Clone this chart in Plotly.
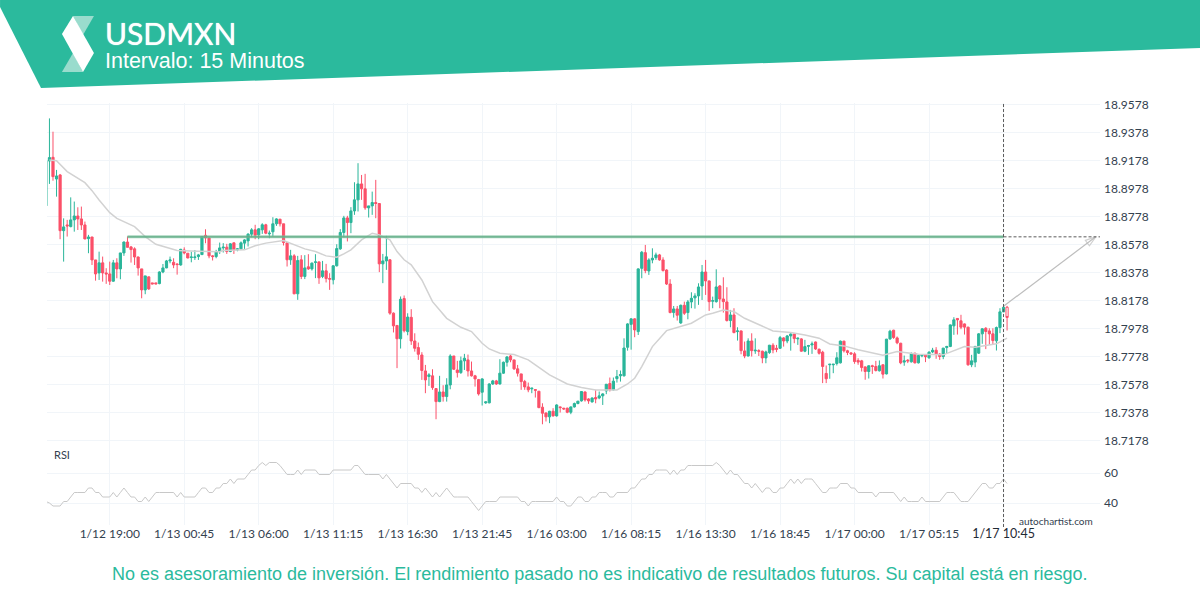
"""USDMXN 15 minute candle chart with RSI pane, autochartist style."""

import plotly.graph_objects as go

SYMBOL = "USDMXN"
INTERVAL = "Intervalo: 15 Minutos"
DISCLAIMER = ("No es asesoramiento de inversión. El rendimiento pasado no es indicativo "
              "de resultados futuros. Su capital está en riesgo.")

open_ = [
    18.8857, 18.9178, 18.9204, 18.9049, 18.9078, 18.8680, 18.8721, 18.8709, 18.8757, 18.8785,
    18.8764, 18.8721, 18.8623, 18.8635, 18.8471, 18.8378, 18.8450, 18.8378, 18.8371, 18.8319,
    18.8450, 18.8407, 18.8521, 18.8599, 18.8564, 18.8550, 18.8492, 18.8407, 18.8257, 18.8350,
    18.8307, 18.8307, 18.8302, 18.8385, 18.8414, 18.8464, 18.8454, 18.8442, 18.8435, 18.8542,
    18.8519, 18.8488, 18.8488, 18.8495, 18.8509, 18.8647, 18.8628, 18.8500, 18.8495, 18.8531,
    18.8557, 18.8562, 18.8531, 18.8593, 18.8543, 18.8550, 18.8591, 18.8607, 18.8655, 18.8686,
    18.8650, 18.8686, 18.8722, 18.8657, 18.8672, 18.8729, 18.8762, 18.8729, 18.8593, 18.8472,
    18.8500, 18.8229, 18.8472, 18.8353, 18.8422, 18.8407, 18.8453, 18.8457, 18.8353, 18.8393,
    18.8338, 18.8329, 18.8429, 18.8550, 18.8667, 18.8771, 18.8738, 18.8821, 18.8900, 18.9014,
    18.8979, 18.8843, 18.8857, 18.8881, 18.8874, 18.8443, 18.8464, 18.8472, 18.8091, 18.8003,
    18.7908, 18.8195, 18.7959, 18.8061, 18.7892, 18.7845, 18.7792, 18.7678, 18.7638, 18.7643,
    18.7552, 18.7459, 18.7528, 18.7495, 18.7578, 18.7785, 18.7685, 18.7666, 18.7750, 18.7757,
    18.7678, 18.7643, 18.7616, 18.7526, 18.7450, 18.7450, 18.7585, 18.7607, 18.7585, 18.7662,
    18.7740, 18.7785, 18.7757, 18.7693, 18.7657, 18.7602, 18.7564, 18.7550, 18.7545, 18.7533,
    18.7419, 18.7378, 18.7350, 18.7390, 18.7357, 18.7421, 18.7412, 18.7412, 18.7383, 18.7421,
    18.7445, 18.7464, 18.7528, 18.7478, 18.7457, 18.7488, 18.7485, 18.7500, 18.7535, 18.7588,
    18.7543, 18.7623, 18.7643, 18.7643, 18.7847, 18.8011, 18.8050, 18.7959, 18.8411, 18.8523,
    18.8392, 18.8471, 18.8487, 18.8507, 18.8471, 18.8399, 18.8299, 18.8095, 18.8121, 18.8021,
    18.8147, 18.8095, 18.8171, 18.8200, 18.8214, 18.8285, 18.8385, 18.8321, 18.8176, 18.8173,
    18.8285, 18.8192, 18.8171, 18.8038, 18.8078, 18.7959, 18.7964, 18.7821, 18.7785, 18.7892,
    18.7821, 18.7823, 18.7819, 18.7771, 18.7809, 18.7862, 18.7840, 18.7840, 18.7914, 18.7892,
    18.7928, 18.7942, 18.7907, 18.7907, 18.7819, 18.7854, 18.7864, 18.7885, 18.7833, 18.7812,
    18.7660, 18.7722, 18.7722, 18.7731, 18.7736, 18.7891, 18.7822, 18.7807, 18.7800, 18.7753,
    18.7750, 18.7707, 18.7674, 18.7715, 18.7710, 18.7679, 18.7722, 18.7657, 18.7907, 18.7969,
    18.7914, 18.7876, 18.7741, 18.7755, 18.7743, 18.7805, 18.7736, 18.7786, 18.7791, 18.7772,
    18.7814, 18.7826, 18.7798, 18.7781, 18.7845, 18.7853, 18.8000, 18.8053, 18.8036, 18.8014,
    18.7991, 18.7722, 18.7741, 18.7805, 18.7943, 18.7983, 18.7964, 18.7943, 18.7893, 18.7988,
    18.8100,
]
high = [
    18.9190, 18.9482, 18.9387, 18.9114, 18.9085, 18.8768, 18.8757, 18.8918, 18.8888, 18.8847,
    18.8852, 18.8745, 18.8650, 18.8635, 18.8471, 18.8530, 18.8495, 18.8412, 18.8459, 18.8471,
    18.8483, 18.8521, 18.8602, 18.8638, 18.8571, 18.8561, 18.8495, 18.8407, 18.8357, 18.8352,
    18.8307, 18.8307, 18.8390, 18.8442, 18.8471, 18.8495, 18.8483, 18.8447, 18.8550, 18.8561,
    18.8519, 18.8530, 18.8542, 18.8514, 18.8642, 18.8690, 18.8633, 18.8505, 18.8543, 18.8595,
    18.8591, 18.8586, 18.8591, 18.8595, 18.8555, 18.8603, 18.8619, 18.8662, 18.8698, 18.8722,
    18.8698, 18.8733, 18.8729, 18.8681, 18.8776, 18.8769, 18.8764, 18.8729, 18.8593, 18.8543,
    18.8512, 18.8500, 18.8505, 18.8505, 18.8512, 18.8453, 18.8512, 18.8460, 18.8464, 18.8443,
    18.8376, 18.8434, 18.8583, 18.8691, 18.8786, 18.8786, 18.8848, 18.9026, 18.9162, 18.9078,
    18.9086, 18.8857, 18.8959, 18.9043, 18.8876, 18.8514, 18.8643, 18.8476, 18.8096, 18.8003,
    18.8210, 18.8217, 18.8090, 18.8119, 18.7947, 18.7881, 18.7812, 18.7721, 18.7662, 18.7690,
    18.7555, 18.7643, 18.7576, 18.7626, 18.7797, 18.7785, 18.7750, 18.7781, 18.7800, 18.7795,
    18.7745, 18.7650, 18.7621, 18.7626, 18.7459, 18.7590, 18.7614, 18.7614, 18.7762, 18.7745,
    18.7785, 18.7793, 18.7757, 18.7721, 18.7657, 18.7614, 18.7595, 18.7557, 18.7547, 18.7535,
    18.7447, 18.7381, 18.7393, 18.7412, 18.7440, 18.7424, 18.7414, 18.7416, 18.7424, 18.7452,
    18.7464, 18.7533, 18.7531, 18.7483, 18.7488, 18.7543, 18.7531, 18.7519, 18.7585, 18.7631,
    18.7631, 18.7685, 18.7681, 18.7911, 18.8019, 18.8054, 18.8054, 18.8411, 18.8535, 18.8578,
    18.8483, 18.8554, 18.8523, 18.8514, 18.8490, 18.8404, 18.8333, 18.8142, 18.8142, 18.8152,
    18.8173, 18.8185, 18.8240, 18.8233, 18.8304, 18.8435, 18.8471, 18.8323, 18.8209, 18.8404,
    18.8292, 18.8347, 18.8276, 18.8114, 18.8126, 18.7990, 18.7966, 18.7888, 18.7911, 18.7947,
    18.7911, 18.7833, 18.7823, 18.7823, 18.7864, 18.7876, 18.7864, 18.7928, 18.7919, 18.7935,
    18.7947, 18.7947, 18.7916, 18.7912, 18.7900, 18.7864, 18.7888, 18.7888, 18.7838, 18.7822,
    18.7717, 18.7726, 18.7726, 18.7812, 18.7895, 18.7893, 18.7829, 18.7812, 18.7812, 18.7769,
    18.7757, 18.7710, 18.7717, 18.7722, 18.7750, 18.7753, 18.7724, 18.7907, 18.7972, 18.7972,
    18.7924, 18.7879, 18.7788, 18.7762, 18.7810, 18.7807, 18.7793, 18.7793, 18.7793, 18.7819,
    18.7843, 18.7848, 18.7805, 18.7843, 18.7857, 18.8010, 18.8062, 18.8055, 18.8079, 18.8017,
    18.7993, 18.7793, 18.7857, 18.7948, 18.7983, 18.7991, 18.7983, 18.7983, 18.7995, 18.8126,
    18.8143,
]
low = [
    18.8857, 18.9014, 18.9037, 18.8923, 18.8619, 18.8459, 18.8638, 18.8704, 18.8673, 18.8685,
    18.8685, 18.8619, 18.8519, 18.8435, 18.8323, 18.8328, 18.8316, 18.8300, 18.8292, 18.8316,
    18.8340, 18.8333, 18.8500, 18.8561, 18.8452, 18.8435, 18.8359, 18.8197, 18.8226, 18.8257,
    18.8297, 18.8297, 18.8297, 18.8376, 18.8412, 18.8447, 18.8412, 18.8366, 18.8430, 18.8511,
    18.8483, 18.8454, 18.8471, 18.8471, 18.8507, 18.8590, 18.8483, 18.8467, 18.8483, 18.8514,
    18.8524, 18.8514, 18.8526, 18.8514, 18.8533, 18.8543, 18.8550, 18.8567, 18.8633, 18.8619,
    18.8619, 18.8657, 18.8655, 18.8626, 18.8638, 18.8714, 18.8710, 18.8574, 18.8424, 18.8436,
    18.8226, 18.8186, 18.8334, 18.8334, 18.8400, 18.8395, 18.8341, 18.8300, 18.8341, 18.8310,
    18.8257, 18.8296, 18.8424, 18.8543, 18.8633, 18.8603, 18.8662, 18.8793, 18.8817, 18.8900,
    18.8829, 18.8774, 18.8793, 18.8769, 18.8384, 18.8305, 18.8400, 18.8079, 18.7953, 18.7698,
    18.7838, 18.7953, 18.7933, 18.7864, 18.7816, 18.7757, 18.7614, 18.7519, 18.7571, 18.7543,
    18.7333, 18.7455, 18.7459, 18.7459, 18.7547, 18.7685, 18.7631, 18.7657, 18.7685, 18.7638,
    18.7638, 18.7566, 18.7502, 18.7431, 18.7443, 18.7447, 18.7578, 18.7578, 18.7581, 18.7657,
    18.7709, 18.7740, 18.7685, 18.7638, 18.7543, 18.7543, 18.7526, 18.7519, 18.7488, 18.7412,
    18.7297, 18.7317, 18.7305, 18.7352, 18.7352, 18.7381, 18.7400, 18.7376, 18.7369, 18.7416,
    18.7440, 18.7459, 18.7459, 18.7443, 18.7452, 18.7447, 18.7476, 18.7435, 18.7512, 18.7531,
    18.7538, 18.7595, 18.7602, 18.7638, 18.7823, 18.7830, 18.7919, 18.7935, 18.8340, 18.8376,
    18.8364, 18.8447, 18.8471, 18.8466, 18.8388, 18.8292, 18.8090, 18.8059, 18.8038, 18.8014,
    18.8078, 18.8047, 18.8126, 18.8123, 18.8150, 18.8185, 18.8221, 18.8107, 18.8126, 18.8166,
    18.8126, 18.8095, 18.8031, 18.7990, 18.7947, 18.7895, 18.7797, 18.7769, 18.7781, 18.7781,
    18.7800, 18.7785, 18.7733, 18.7733, 18.7800, 18.7804, 18.7812, 18.7835, 18.7852, 18.7876,
    18.7823, 18.7876, 18.7864, 18.7816, 18.7812, 18.7793, 18.7800, 18.7828, 18.7795, 18.7591,
    18.7591, 18.7622, 18.7662, 18.7717, 18.7731, 18.7810, 18.7791, 18.7793, 18.7729, 18.7722,
    18.7674, 18.7615, 18.7624, 18.7657, 18.7674, 18.7674, 18.7624, 18.7653, 18.7900, 18.7907,
    18.7869, 18.7726, 18.7715, 18.7734, 18.7738, 18.7731, 18.7731, 18.7776, 18.7741, 18.7765,
    18.7805, 18.7765, 18.7757, 18.7762, 18.7805, 18.7848, 18.7936, 18.7938, 18.7976, 18.7938,
    18.7715, 18.7705, 18.7705, 18.7800, 18.7872, 18.7834, 18.7865, 18.7865, 18.7824, 18.7948,
    18.8100,
]
close = [
    18.9180, 18.9202, 18.9066, 18.9071, 18.8680, 18.8707, 18.8714, 18.8757, 18.8785, 18.8764,
    18.8721, 18.8621, 18.8635, 18.8471, 18.8371, 18.8450, 18.8378, 18.8371, 18.8319, 18.8450,
    18.8407, 18.8521, 18.8599, 18.8561, 18.8545, 18.8492, 18.8414, 18.8257, 18.8357, 18.8264,
    18.8300, 18.8300, 18.8385, 18.8414, 18.8464, 18.8471, 18.8435, 18.8438, 18.8547, 18.8521,
    18.8485, 18.8492, 18.8492, 18.8507, 18.8638, 18.8628, 18.8500, 18.8495, 18.8531, 18.8557,
    18.8562, 18.8531, 18.8586, 18.8543, 18.8550, 18.8593, 18.8614, 18.8655, 18.8686, 18.8648,
    18.8693, 18.8722, 18.8662, 18.8662, 18.8729, 18.8764, 18.8729, 18.8595, 18.8472, 18.8500,
    18.8229, 18.8467, 18.8353, 18.8414, 18.8407, 18.8448, 18.8457, 18.8343, 18.8393, 18.8338,
    18.8334, 18.8429, 18.8552, 18.8667, 18.8771, 18.8738, 18.8821, 18.8900, 18.9014, 18.8979,
    18.8843, 18.8857, 18.8881, 18.8874, 18.8443, 18.8464, 18.8493, 18.8091, 18.8000, 18.7908,
    18.8190, 18.7965, 18.8063, 18.7892, 18.7840, 18.7797, 18.7681, 18.7614, 18.7650, 18.7559,
    18.7459, 18.7528, 18.7495, 18.7578, 18.7785, 18.7690, 18.7666, 18.7750, 18.7769, 18.7678,
    18.7643, 18.7621, 18.7514, 18.7621, 18.7457, 18.7585, 18.7607, 18.7585, 18.7662, 18.7740,
    18.7778, 18.7757, 18.7693, 18.7662, 18.7602, 18.7564, 18.7543, 18.7555, 18.7540, 18.7416,
    18.7376, 18.7350, 18.7390, 18.7357, 18.7435, 18.7416, 18.7407, 18.7383, 18.7421, 18.7445,
    18.7462, 18.7531, 18.7471, 18.7464, 18.7485, 18.7478, 18.7500, 18.7514, 18.7583, 18.7543,
    18.7605, 18.7638, 18.7652, 18.7842, 18.8014, 18.8050, 18.7971, 18.8407, 18.8526, 18.8395,
    18.8471, 18.8483, 18.8507, 18.8471, 18.8395, 18.8299, 18.8095, 18.8121, 18.8076, 18.8147,
    18.8090, 18.8171, 18.8197, 18.8214, 18.8278, 18.8385, 18.8321, 18.8173, 18.8180, 18.8278,
    18.8192, 18.8173, 18.8038, 18.8078, 18.7952, 18.7964, 18.7823, 18.7785, 18.7892, 18.7823,
    18.7826, 18.7819, 18.7771, 18.7814, 18.7862, 18.7828, 18.7833, 18.7916, 18.7892, 18.7928,
    18.7942, 18.7909, 18.7912, 18.7819, 18.7852, 18.7859, 18.7871, 18.7835, 18.7804, 18.7710,
    18.7622, 18.7726, 18.7726, 18.7772, 18.7891, 18.7822, 18.7810, 18.7800, 18.7745, 18.7741,
    18.7703, 18.7674, 18.7715, 18.7710, 18.7681, 18.7715, 18.7655, 18.7905, 18.7962, 18.7917,
    18.7879, 18.7736, 18.7750, 18.7750, 18.7803, 18.7736, 18.7788, 18.7791, 18.7779, 18.7812,
    18.7826, 18.7800, 18.7781, 18.7841, 18.7853, 18.8007, 18.8043, 18.8043, 18.7991, 18.7991,
    18.7722, 18.7750, 18.7853, 18.7943, 18.7979, 18.7960, 18.7943, 18.7895, 18.7988, 18.8100,
    18.8133,
]

# bar still forming, drawn hollow
live_open = 18.8133
live_high = 18.8143
live_low = 18.7967
live_close = 18.8060

rsi = [
    41, 40, 38, 38, 38, 41, 41, 44, 47, 47, 47, 47, 50, 50, 47, 47, 44, 44, 44, 47,
    44, 47, 50, 47, 44, 44, 41, 41, 44, 41, 44, 47, 47, 47, 47, 47, 47, 44, 47, 44,
    44, 44, 44, 47, 50, 50, 47, 47, 50, 50, 53, 53, 56, 53, 56, 56, 56, 59, 62, 62,
    65, 67, 65, 67, 67, 67, 65, 62, 59, 59, 59, 62, 59, 62, 62, 62, 62, 59, 59, 59,
    59, 62, 62, 62, 62, 62, 62, 65, 65, 62, 59, 59, 59, 59, 59, 56, 59, 56, 53, 50,
    53, 53, 53, 53, 50, 50, 47, 50, 47, 44, 47, 44, 47, 50, 47, 44, 44, 44, 44, 44,
    41, 38, 35, 38, 41, 41, 41, 41, 44, 44, 44, 44, 44, 44, 41, 41, 38, 41, 41, 41,
    41, 41, 41, 41, 44, 41, 41, 38, 38, 41, 44, 44, 41, 41, 44, 44, 47, 47, 47, 44,
    44, 47, 47, 47, 47, 50, 50, 53, 56, 56, 59, 59, 62, 62, 62, 62, 59, 62, 59, 62,
    62, 65, 65, 65, 65, 65, 65, 65, 65, 67, 65, 62, 59, 62, 59, 59, 56, 53, 53, 50,
    53, 50, 47, 50, 50, 47, 47, 50, 50, 53, 56, 53, 56, 53, 56, 56, 56, 53, 50, 47,
    47, 50, 50, 50, 53, 53, 53, 50, 50, 47, 47, 47, 47, 47, 44, 47, 47, 47, 47, 47,
    44, 41, 44, 41, 41, 41, 41, 44, 41, 41, 41, 41, 41, 44, 47, 47, 47, 44, 41, 41,
    41, 44, 47, 50, 53, 53, 50, 50, 53, 53, 56, 53,
]

ma_bar = [
    1, 3, 6, 11, 13, 15, 18, 20, 25, 28, 31, 34, 37, 43, 49, 50, 56, 59, 62, 67,
    70, 73, 76, 79, 82, 84, 86, 89, 92, 94, 97, 99, 101, 103, 106, 109, 113, 117, 120, 123,
    125, 128, 132, 136, 138, 142, 147, 151, 155, 161, 164, 166, 168, 171, 175, 179, 182, 186, 188, 191,
    194, 197, 201, 205, 210, 214, 218, 221, 225, 229, 236, 240, 246, 253, 259, 262, 268, 271,
]
ma_value = [
    18.9185, 18.9180, 18.9102, 18.9023, 18.8966, 18.8899, 18.8809, 18.8768, 18.8709, 18.8638,
    18.8583, 18.8561, 18.8538, 18.8533, 18.8530, 18.8538, 18.8543, 18.8572, 18.8591, 18.8610,
    18.8579, 18.8550, 18.8531, 18.8500, 18.8491, 18.8514, 18.8543, 18.8614, 18.8662, 18.8650,
    18.8614, 18.8531, 18.8472, 18.8436, 18.8328, 18.8173, 18.8054, 18.7990, 18.7959, 18.7876,
    18.7835, 18.7804, 18.7795, 18.7757, 18.7721, 18.7650, 18.7585, 18.7559, 18.7542, 18.7542,
    18.7585, 18.7626, 18.7709, 18.7852, 18.7966, 18.7995, 18.8019, 18.8078, 18.8090, 18.8114,
    18.8102, 18.8054, 18.8007, 18.7964, 18.7952, 18.7935, 18.7912, 18.7871, 18.7857, 18.7829,
    18.7791, 18.7817, 18.7798, 18.7793, 18.7853, 18.7848, 18.7872, 18.7912,
]

price_ticks = [18.9578, 18.9378, 18.9178, 18.8978, 18.8778, 18.8578, 18.8378, 18.8178,
               18.7978, 18.7778, 18.7578, 18.7378, 18.7178]
rsi_ticks = [40, 60]

time_bar = [18, 39, 60, 81, 102, 123, 144, 165, 186, 207, 228, 249, 270]
time_labels = ["1/12 19:00", "1/13 00:45", "1/13 06:00", "1/13 11:15", "1/13 16:30",
               "1/13 21:45", "1/16 03:00", "1/16 08:15", "1/16 13:30", "1/16 18:45",
               "1/17 00:00", "1/17 05:15",
               '<span style="font-size:12.5px;color:#1f2a35">1/17 10:45</span>']

level_price = 18.8636
level_start_bar = 23
now_bar = 270
arrow_bar = [270, 296]
arrow_price = [18.8140, 18.8636]
right_bar = 297.2

TEAL = "#2bba9d"
GREEN = "#2ab59a"
RED = "#fb5069"
GRID = "#f1f5f9"
TEXT = "#33414f"

WIDTH, HEIGHT = 1200, 600
LEFT, RIGHT, TOP, BOTTOM = 47, 1100, 103, 525


def fx(px):
    return (px - LEFT) / (RIGHT - LEFT)


def fy(py):
    return (BOTTOM - py) / (BOTTOM - TOP)


def polygon(points, color):
    """Filled shape given in page pixels."""
    path = "M " + " L ".join(f"{fx(x):.4f},{fy(y):.4f}" for x, y in points) + " Z"
    return dict(type="path", xref="paper", yref="paper", path=path,
                fillcolor=color, line=dict(width=0), layer="above")


def note(text, x, y, size, color, family="Lato", anchor="left", shadow=None):
    return dict(text=text, x=fx(x), y=fy(y), xref="paper", yref="paper",
                xanchor=anchor, yanchor="middle", showarrow=False,
                font=dict(family=family, size=size, color=color, shadow=shadow))


bars = list(range(len(open_)))

fig = go.Figure()

fig.add_trace(go.Candlestick(
    x=bars, open=open_, high=high, low=low, close=close,
    increasing=dict(line=dict(color=GREEN, width=1), fillcolor=GREEN),
    decreasing=dict(line=dict(color=RED, width=1), fillcolor=RED),
    whiskerwidth=0,
))
fig.add_trace(go.Candlestick(
    x=[len(open_)], open=[live_open], high=[live_high], low=[live_low], close=[live_close],
    increasing=dict(line=dict(color=RED, width=1), fillcolor="white"),
    decreasing=dict(line=dict(color=RED, width=1), fillcolor="white"),
    whiskerwidth=0,
))

# moving average
fig.add_trace(go.Scatter(x=ma_bar, y=ma_value, mode="lines",
                         line=dict(color="#d2d2d2", width=1.5)))

# resistance level, soft edge then core
fig.add_trace(go.Scatter(x=[level_start_bar, now_bar], y=[level_price, level_price], mode="lines",
                         line=dict(color="rgba(120,190,155,0.65)", width=3)))
fig.add_trace(go.Scatter(x=[level_start_bar, now_bar], y=[level_price, level_price], mode="lines",
                         line=dict(color="#62ab86", width=1.2)))

# forecast arrow
fig.add_trace(go.Scatter(
    x=arrow_bar, y=arrow_price, mode="lines+markers",
    line=dict(color="#bdbdbd", width=1.2),
    marker=dict(symbol=["circle", "arrow-open"], size=[0, 11], angleref="previous",
                color="#bdbdbd", line=dict(color="#bdbdbd", width=1.2)),
))

fig.add_trace(go.Scatter(x=bars + [len(open_)], y=rsi, mode="lines", yaxis="y2",
                         line=dict(color="#c8c8c8", width=1)))

shapes = [
    polygon([(0, 0), (1200, 0), (1200, 48), (41, 88), (0, 7)], TEAL),
    polygon([(73, 16), (94, 16), (83, 35)], "#99dccd"),
    polygon([(62, 72), (83, 72), (73, 53)], "#99dccd"),
    polygon([(73, 16), (62, 34), (83, 72), (94, 53)], "white"),
    dict(type="line", xref="x", yref="paper", x0=now_bar, x1=now_bar, y0=fy(527), y1=1,
         line=dict(color="#5c5c5c", width=1, dash="3px,2px")),
    dict(type="line", xref="x", yref="y", x0=now_bar, x1=right_bar, y0=level_price, y1=level_price,
         line=dict(color="#5c5c5c", width=1, dash="3px,2px")),
]

annotations = [
    # a touch of shadow stands in for Lato Medium, which is not installed
    note(SYMBOL, 103, 33, 30, "white", shadow="0 0 1px white"),
    note(INTERVAL, 103, 61, 21.5, "white", family="Liberation Sans"),
    note("RSI", 52, 454, 11, TEXT),
    note("autochartist.com", 1017, 521, 10, TEXT),
    note(DISCLAIMER, 600, 574, 18, TEAL, family="Liberation Sans", anchor="center"),
]

fig.update_layout(
    width=WIDTH, height=HEIGHT,
    margin=dict(l=LEFT, r=WIDTH - RIGHT, t=TOP, b=HEIGHT - BOTTOM),
    paper_bgcolor="white", plot_bgcolor="white",
    showlegend=False,
    boxgap=0.12,
    font=dict(family="Lato", size=12, color=TEXT),
    shapes=shapes,
    annotations=annotations,
    xaxis=dict(
        range=[0.31, right_bar], anchor="y2", rangeslider=dict(visible=False),
        tickmode="array", tickvals=time_bar, ticktext=time_labels, tickangle=0,
        showgrid=True, gridcolor=GRID, gridwidth=1, zeroline=False, showline=False, ticks="",
    ),
    yaxis=dict(
        domain=[80 / 422, 1], range=[18.7149, 18.9592], side="right", ticklabelstandoff=3,
        tickmode="array", tickvals=price_ticks, ticktext=[f"{t:.4f}" for t in price_ticks],
        showgrid=True, gridcolor=GRID, gridwidth=1, zeroline=False, showline=False, ticks="",
    ),
    yaxis2=dict(
        domain=[0, 80 / 422], range=[25.33, 78.67], side="right", ticklabelstandoff=3,
        tickmode="array", tickvals=rsi_ticks,
        showgrid=True, gridcolor=GRID, gridwidth=1, zeroline=False, showline=False, ticks="",
    ),
)

# the page's default body margin would push everything 8px off
fig.write_html("out.html", config={"displayModeBar": False},
               post_script="document.body.style.margin = '0';")
